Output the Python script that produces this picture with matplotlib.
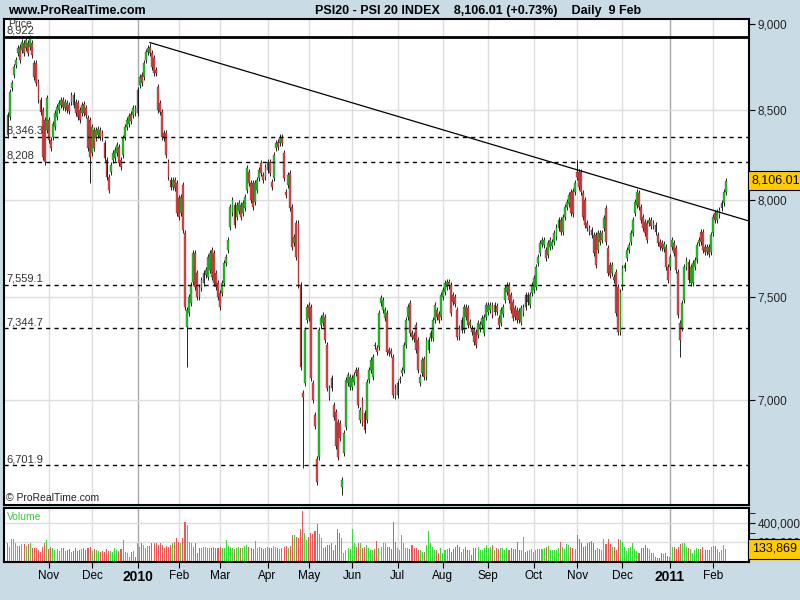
import matplotlib
matplotlib.use("Agg")
import matplotlib.pyplot as plt
import matplotlib.ticker as mticker
import matplotlib.transforms as mtrans
import numpy as np
import pandas as pd

plt.rcParams['font.family'] = ['Liberation Sans', 'DejaVu Sans']

# PSI20 daily candles, 5 Oct 2009 - 9 Feb 2011 (one row per month)
opens = [
    8470, 8459, 8624, 8700, 8758, 8828, 8864, 8846, 8887, 8858, 8887, 8864, 8887, 8770, 8770, 8659, 8555, 8498, 8442, 8385,
    8442, 8330, 8347, 8403, 8459, 8498, 8527, 8555, 8510, 8538, 8527, 8544, 8584, 8544, 8538, 8498, 8481, 8530, 8510, 8453, 8442,
    8258, 8385, 8341, 8358, 8385, 8369, 8313, 8219, 8126, 8153, 8219, 8230, 8258, 8291, 8219, 8247, 8347, 8403, 8420, 8476, 8470, 8510,
    8481, 8642, 8700, 8688, 8787, 8834, 8864, 8828, 8799, 8729, 8630, 8538, 8487, 8369, 8369, 8208, 8110, 8072, 8110, 8094,
    8013, 7933, 8083, 7828, 7352, 7421, 7471, 7576, 7725, 7622, 7551, 7546, 7571, 7612, 7601, 7637, 7740, 7725, 7622, 7571,
    7521, 7521, 7571, 7673, 7740, 7860, 7933, 7976, 7912, 7944, 7976, 7933, 7960, 8056, 8153, 8094, 8094, 7992, 8056, 8121, 8202, 8137, 8126,
    8164, 8208, 8099, 8121, 8285, 8319, 8313, 8347, 8258, 8045, 8083, 8148, 7965, 7777, 7880, 7880, 7561, 7034, 7081, 7386,
    7461, 7451, 7081, 6932, 6731, 6740, 7361, 7371, 7401, 7264, 7058, 7105, 6978, 6945, 6900, 6894, 6605, 6758, 6876, 7081, 7062,
    7062, 7086, 7143, 7143, 6908, 7001, 6941, 6908, 7095, 7143, 7109, 7264, 7250, 7254, 7471, 7436, 7396, 7421, 7240, 7235, 7206, 7060,
    7025, 7095, 7128, 7143, 7264, 7401, 7471, 7322, 7312, 7361, 7288, 7081, 7128, 7196, 7109, 7240, 7298, 7298, 7386, 7436, 7416, 7401,
    7501, 7526, 7551, 7576, 7561, 7511, 7501, 7436, 7347, 7337, 7337, 7451, 7446, 7361, 7347, 7337, 7327, 7312, 7340, 7361, 7322, 7401,
    7426, 7436, 7461, 7426, 7456, 7396, 7371, 7416, 7486, 7526, 7561, 7511, 7476, 7446, 7436, 7431, 7376, 7421, 7511, 7511, 7461, 7521,
    7536, 7551, 7673, 7725, 7770, 7765, 7740, 7715, 7756, 7760, 7782, 7808, 7854, 7896, 7833, 7912, 7965, 7981, 8045, 8050, 8045,
    8153, 8153, 8153, 8040, 8002, 7880, 7854, 7844, 7818, 7818, 7740, 7828, 7792, 7854, 7960, 7751, 7663, 7622, 7601, 7627, 7551, 7327,
    7551, 7648, 7699, 7740, 7782, 7828, 7933, 7976, 8040, 7965, 7912, 7886, 7880, 7880, 7896, 7865, 7870, 7818, 7782, 7777, 7746, 7756, 7653,
    7653, 7756, 7777, 7751, 7627, 7371, 7347, 7486, 7653, 7678, 7571, 7571, 7653, 7688, 7777, 7833, 7833, 7756, 7730, 7756, 7730,
    7828, 7933, 7896, 7923, 7960, 7986, 8045,
]
closes = [
    8358, 8601, 8653, 8746, 8787, 8858, 8787, 8893, 8828, 8905, 8828, 8917, 8816, 8688, 8653, 8555, 8487, 8236, 8208, 8567,
    8330, 8285, 8420, 8481, 8515, 8538, 8555, 8515, 8544, 8498, 8492, 8584, 8527, 8481, 8459, 8442, 8527, 8481, 8470, 8285, 8236,
    8403, 8285, 8385, 8392, 8347, 8341, 8230, 8126, 8056, 8191, 8258, 8274, 8302, 8202, 8180, 8341, 8403, 8442, 8464, 8436, 8510, 8481,
    8613, 8688, 8653, 8770, 8834, 8858, 8828, 8746, 8711, 8711, 8498, 8487, 8347, 8341, 8247, 8126, 8072, 8110, 8067, 7933,
    7912, 8018, 7844, 7451, 7436, 7501, 7561, 7725, 7551, 7501, 7501, 7586, 7622, 7637, 7704, 7725, 7601, 7571, 7551, 7501,
    7451, 7571, 7673, 7704, 7792, 7965, 8002, 7870, 7976, 7986, 7912, 7986, 8018, 8175, 8094, 8002, 7965, 8094, 8110, 8164, 8148, 8110, 8180,
    8208, 8148, 8072, 8247, 8313, 8291, 8347, 8313, 8121, 8029, 8137, 7960, 7756, 7808, 7704, 7561, 7157, 7015, 7337, 7451,
    7396, 7105, 7001, 6880, 6627, 7337, 7396, 7411, 7288, 7058, 7015, 7058, 6922, 6789, 6740, 6826, 6636, 6849, 7095, 7119, 7109,
    7105, 7119, 7128, 6978, 6955, 6894, 6862, 7086, 7143, 7191, 7206, 7259, 7230, 7421, 7496, 7486, 7436, 7230, 7225, 7220, 7025, 7020,
    7081, 7100, 7143, 7264, 7386, 7451, 7322, 7303, 7293, 7240, 7143, 7109, 7191, 7109, 7288, 7288, 7322, 7386, 7461, 7401, 7386, 7511,
    7536, 7571, 7576, 7556, 7421, 7476, 7466, 7303, 7303, 7386, 7451, 7401, 7361, 7376, 7327, 7278, 7264, 7371, 7366, 7396, 7401, 7461,
    7461, 7461, 7411, 7461, 7426, 7361, 7436, 7451, 7546, 7561, 7486, 7436, 7396, 7401, 7386, 7386, 7446, 7451, 7451, 7476, 7511, 7561,
    7596, 7653, 7704, 7777, 7792, 7792, 7699, 7777, 7792, 7782, 7828, 7860, 7896, 7833, 7912, 7965, 7992, 8029, 7933, 7928, 8094,
    8126, 8072, 8045, 7912, 7870, 7854, 7833, 7818, 7725, 7663, 7828, 7782, 7828, 7907, 7782, 7622, 7612, 7663, 7586, 7421, 7327, 7526,
    7648, 7663, 7740, 7766, 7828, 7896, 7992, 8045, 7965, 7896, 7854, 7828, 7792, 7896, 7865, 7880, 7833, 7777, 7756, 7751, 7770, 7653, 7586,
    7704, 7792, 7725, 7637, 7411, 7288, 7471, 7653, 7688, 7586, 7653, 7673, 7688, 7766, 7792, 7782, 7740, 7730, 7756, 7720, 7818,
    7912, 7896, 7939, 7949, 7986, 8045, 8106.01,
]
# volume in thousands
volumes_k = [
    190, 155, 235, 235, 190, 165, 165, 180, 180, 165, 180, 195, 145, 138, 138, 121, 104, 155, 190, 223,
    130, 150, 140, 121, 128, 111, 145, 138, 111, 121, 128, 104, 111, 138, 111, 121, 128, 145, 121, 145, 155,
    111, 128, 121, 111, 104, 111, 104, 128, 111, 111, 104, 145, 121, 111, 128, 223, 104, 87, 53, 104, 111, 53,
    189, 155, 189, 172, 145, 162, 162, 189, 189, 189, 172, 189, 172, 145, 162, 155, 172, 189, 206, 240,
    206, 189, 240, 410, 375, 206, 189, 150, 190, 87, 140, 145, 150, 150, 145, 140, 145, 150, 138, 145,
    150, 145, 145, 223, 160, 150, 145, 135, 140, 150, 140, 145, 160, 170, 150, 145, 135, 216, 140, 150, 145, 135, 140,
    150, 145, 140, 162, 150, 145, 128, 140, 155, 162, 145, 160, 274, 274, 257, 250, 335, 519, 291, 223,
    257, 300, 285, 318, 390, 290, 240, 138, 155, 172, 175, 189, 121, 172, 335, 298, 240, 87, 121, 140, 135,
    335, 189, 155, 189, 189, 145, 155, 172, 138, 121, 121, 128, 213, 138, 155, 189, 189, 155, 155, 128, 410, 206,
    140, 121, 272, 195, 138, 138, 128, 172, 145, 138, 121, 121, 104, 104, 172, 313, 195, 155, 121, 121, 87, 138,
    87, 121, 128, 138, 104, 128, 155, 172, 155, 104, 128, 155, 121, 121, 70, 138, 138, 155, 121, 121, 145, 172,
    138, 155, 172, 121, 138, 128, 138, 138, 121, 138, 121, 138, 128, 128, 204, 121, 121, 255, 104, 111, 121, 128,
    104, 121, 128, 128, 128, 138, 155, 162, 121, 121, 121, 121, 138, 204, 155, 128, 182, 172, 150, 140, 128,
    272, 230, 189, 155, 162, 189, 206, 213, 189, 121, 138, 128, 121, 230, 182, 230, 182, 155, 155, 121, 230, 223,
    206, 155, 114, 138, 155, 196, 128, 111, 87, 138, 138, 172, 138, 128, 87, 87, 53, 43, 36, 87, 78, 92, 60,
    50, 155, 155, 128, 155, 182, 189, 196, 155, 145, 128, 87, 121, 138, 128, 133, 150, 125, 121, 121, 155,
    162, 168, 128, 104, 121, 172, 133.869,
]

holidays = ["2009-12-25", "2010-01-01", "2010-04-02", "2010-04-05"]
dates = pd.bdate_range("2009-10-05", "2011-02-09")
dates = dates[~dates.isin(pd.to_datetime(holidays))]

# wicks that stick out clearly (day index -> price)
long_lows = {40: 8094, 87: 7157, 143: 6690, 162: 6570, 326: 7206}
long_highs = {69: 8890, 276: 8219}

levels = [8346.3, 8208, 7559.1, 7344.7, 6701.9]
level_labels = ["8,346.3", "8,208", "7,559.1", "7,344.7", "6,701.9"]
top_level = 8922
trend_idx = [69, 276]
trend_px = [8890, 8165]

o = np.array(opens, float)
c = np.array(closes, float)
vol = np.array(volumes_k, float) * 1000
n = len(c)
dates = dates[:n]
x = np.arange(n)

hi = np.maximum(o, c) * 1.002
lo = np.minimum(o, c) * 0.998
for k, v in long_highs.items():
    hi[k] = v
for k, v in long_lows.items():
    lo[k] = v

up = c >= o
green, red = '#22cc22', '#ee4444'
bg = '#c9dbe5'

fig = plt.figure(figsize=(8, 6), dpi=100, facecolor=bg)
ax = fig.add_axes([4 / 800, 95 / 600, 745 / 800, 486 / 600])
axv = fig.add_axes([4 / 800, 38 / 600, 745 / 800, 53.6 / 600])

# month starts
month_idx = [i for i in range(1, n) if dates[i].month != dates[i - 1].month]
month_lab = [str(dates[i].year) if dates[i].month == 1 else dates[i].strftime('%b') for i in month_idx]

for a in (ax, axv):
    a.set_facecolor('white')
    for i in month_idx:
        col = '#a8a8a8' if dates[i].month == 1 else '#dcdcdc'
        a.axvline(i, color=col, lw=1, zorder=0)
    for s in a.spines.values():
        s.set_color('black')
        s.set_linewidth(1.5)
    a.set_xlim(-1.7, 359.3)

# candles: wick, colored body, thin black outline
bottom = np.minimum(o, c)
height = np.maximum(np.abs(c - o), bottom * 0.0005)
ax.vlines(x, lo, hi, color='black', lw=0.6, zorder=2)
ax.bar(x, height, bottom=bottom, width=0.9, color=np.where(up, green, red), linewidth=0, zorder=3)
ax.bar(x, height, bottom=bottom, width=0.9, fill=False, edgecolor='#222222', linewidth=0.2, zorder=4)

ax.set_yscale('log')
ax.set_ylim(6526, 9031)
ax.yaxis.set_major_locator(mticker.FixedLocator([7000, 7500, 8000, 8500, 9000]))
ax.yaxis.set_minor_locator(mticker.NullLocator())
ax.yaxis.set_major_formatter(mticker.FuncFormatter(lambda v, p: f'{v:,.0f}'))
ax.yaxis.tick_right()
ax.tick_params(axis='y', direction='out', length=4, labelsize=8.5, labelcolor='#222222', pad=2)
ax.set_xticks([])
for t in [7000, 7500, 8000, 8500]:
    ax.axhline(t, color='#dcdcdc', lw=1, zorder=0)

# support / resistance levels
blend = mtrans.blended_transform_factory(ax.transAxes, ax.transData)
for lv, lab in zip(levels, level_labels):
    ax.axhline(lv, color='black', lw=1, ls=(0, (3, 3)), zorder=5)
    ax.text(0.003, lv * 1.0008, lab, transform=blend, fontsize=8, color='#333333', va='bottom', ha='left')
ax.axhline(top_level, color='black', lw=2, zorder=5)
ax.text(0.003, top_level * 1.0008, '8,922', transform=blend, fontsize=8, color='#333333', va='bottom', ha='left')
ax.text(0.005, 0.999, 'Price', transform=ax.transAxes, fontsize=7.5, color='#333333', va='top', ha='left')

# trend line, extended to the right edge
slope = (np.log(trend_px[1]) - np.log(trend_px[0])) / (trend_idx[1] - trend_idx[0])
tx = np.array([trend_idx[0], 359.3])
ax.plot(tx, np.exp(np.log(trend_px[0]) + slope * (tx - trend_idx[0])), color='black', lw=0.9, zorder=6)

ax.text(0.003, 0.004, '\u00a9 ProRealTime.com', transform=ax.transAxes, fontsize=7.5, color='#222222',
        va='bottom', ha='left')
ax.text(1.004, c[-1], f'{c[-1]:,.2f}', transform=blend, fontsize=9, va='center', ha='left', zorder=10,
        bbox=dict(boxstyle='square,pad=0.3', facecolor='#ffcc00', edgecolor='black', lw=0.8), clip_on=False)

# volume, one pixel wide bars
axv.bar(x, vol, width=0.5, color=np.where(up, '#33dd33', '#ee5555'), linewidth=0, zorder=2, antialiased=False)
axv.set_ylim(0, 547000)
axv.yaxis.tick_right()
axv.yaxis.set_major_locator(mticker.FixedLocator([200000, 400000]))
axv.yaxis.set_minor_locator(mticker.FixedLocator([100000, 300000, 500000]))
axv.yaxis.set_major_formatter(mticker.FuncFormatter(lambda v, p: f'{v:,.0f}'))
axv.tick_params(axis='y', which='both', direction='out', length=4, labelsize=8.5, labelcolor='#222222', pad=2)
for t in [200000, 400000]:
    axv.axhline(t, color='#dcdcdc', lw=1, zorder=0)
axv.text(0.004, 0.93, 'Volume', transform=axv.transAxes, fontsize=7.5, color='#33cc33', va='top', ha='left')
vblend = mtrans.blended_transform_factory(axv.transAxes, axv.transData)
axv.text(1.004, vol[-1], f'{vol[-1]:,.0f}', transform=vblend, fontsize=9, va='center', ha='left',
         bbox=dict(boxstyle='square,pad=0.3', facecolor='#ffcc00', edgecolor='black', lw=0.8), clip_on=False, zorder=10)

axv.set_xticks(month_idx)
axv.set_xticklabels(month_lab)
axv.tick_params(axis='x', direction='out', length=4, labelsize=8.5, pad=1.5)
for lab, i in zip(axv.get_xticklabels(), month_idx):
    if dates[i].month == 1:
        lab.set_fontweight('bold')
        lab.set_fontsize(10)

fig.text(8 / 800, 1 - 11 / 600, 'www.ProRealTime.com', fontsize=9, fontweight='bold', va='center', ha='left')
fig.text(315 / 800, 1 - 11 / 600, 'PSI20 - PSI 20 INDEX    8,106.01 (+0.73%)    Daily  9 Feb',
         fontsize=9, fontweight='bold', va='center', ha='left')

fig.savefig('out.png', dpi=100, facecolor=bg)
